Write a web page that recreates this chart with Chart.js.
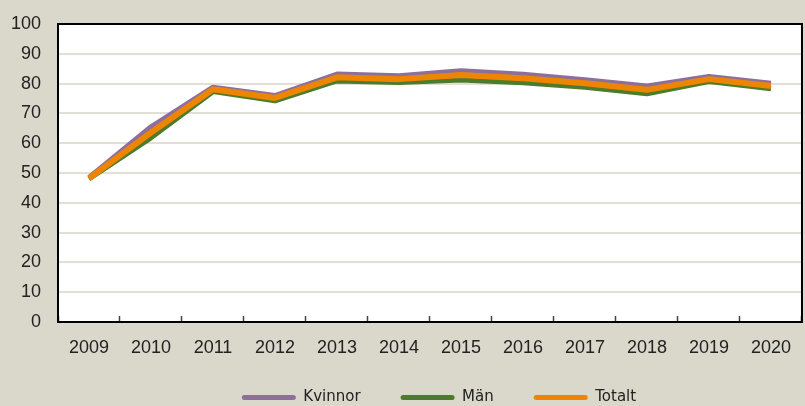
<!DOCTYPE html>
<html lang="sv">
<head>
<meta charset="utf-8">
<title>Kvinnor, Män, Totalt 2009–2020</title>
<script src="https://cdn.jsdelivr.net/npm/chart.js@4/dist/chart.umd.min.js"></script>
<style>
  html, body { margin: 0; padding: 0; overflow: hidden; background: #dad7cb; }
  #miGrafico { display: block; }
</style>
</head>
<body>
<canvas id="miGrafico" width="812" height="427"></canvas>
<script>
// ===============================
// Datos
// ===============================
const anios = ['2009', '2010', '2011', '2012', '2013', '2014', '2015', '2016', '2017', '2018', '2019', '2020'];
const kvinnor = [48.5, 65.5, 78.8, 76.0, 83.2, 82.6, 84.3, 83.1, 81.3, 79.2, 82.4, 80.1];
const man = [48.0, 61.8, 77.3, 74.2, 80.9, 80.4, 81.2, 80.3, 78.8, 76.6, 80.7, 78.3];
const totalt = [48.2, 63.6, 78.1, 75.2, 82.1, 81.5, 82.9, 81.8, 80.1, 77.9, 81.5, 79.2];
const ticksY = [0, 10, 20, 30, 40, 50, 60, 70, 80, 90, 100];

const FUENTE = '"Liberation Sans", Arial, sans-serif';
const FUENTE_LEYENDA = '"DejaVu Sans", sans-serif';

// ===============================
// Plugin: fondo blanco y marco negro del área del gráfico
// ===============================
const marcoArea = {
  id: 'marcoArea',
  beforeDraw(chart) {
    const { ctx, chartArea } = chart;
    ctx.save();
    ctx.fillStyle = '#fff';
    ctx.fillRect(chartArea.left, chartArea.top, chartArea.right - chartArea.left, chartArea.bottom - chartArea.top);
    ctx.restore();
  },
  afterDraw(chart) {
    const { ctx, chartArea } = chart;
    ctx.save();
    ctx.strokeStyle = '#000';
    ctx.lineWidth = 2;
    ctx.strokeRect(chartArea.left, chartArea.top, chartArea.right - chartArea.left, chartArea.bottom - chartArea.top);
    ctx.restore();
  }
};

// ===============================
// Plugin: acercar la leyenda a las etiquetas del eje X
// ===============================
const subirLeyenda = {
  id: 'subirLeyenda',
  afterLayout(chart) {
    const leyenda = chart.legend;
    if (!leyenda) return;
    leyenda.top -= 12;
    leyenda.bottom -= 12;
    leyenda.left += 9;
    leyenda.right += 9;
  }
};

// ===============================
// Gráfico
// ===============================
function serie(label, data, color, ancho, orden) {
  return {
    label: label,
    data: data,
    borderColor: color,
    backgroundColor: color,
    borderWidth: ancho,
    borderJoinStyle: 'round',
    pointRadius: 0,
    tension: 0,
    fill: false,
    order: orden
  };
}

const ctx = document.getElementById('miGrafico').getContext('2d');
new Chart(ctx, {
  type: 'line',
  data: {
    labels: anios,
    datasets: [
      serie('Kvinnor', kvinnor, '#8c6f9c', 5, 2),
      serie('Män', man, '#4b7b2b', 5, 1),
      serie('Totalt', totalt, '#ee8500', 6, 0)
    ]
  },
  options: {
    responsive: false,
    animation: false,
    layout: { padding: { top: 24, left: 0, right: 0, bottom: 0 } },
    scales: {
      x: {
        offset: true,
        grid: {
          offset: true,
          drawOnChartArea: false,
          drawTicks: true,
          tickLength: -6,
          tickWidth: 1.5,
          tickColor: '#444'
        },
        border: { color: '#000', width: 2 },
        ticks: { color: '#222', padding: 21, font: { family: FUENTE, size: 18 } },
        afterFit: (scale) => { scale.height = 40; }
      },
      y: {
        min: 0,
        max: 100,
        afterBuildTicks: (scale) => { scale.ticks = ticksY.map(v => ({ value: v })); },
        grid: { color: '#e2dfd6', lineWidth: 2, drawTicks: false },
        border: { color: '#000', width: 2 },
        ticks: { color: '#222', padding: 17, font: { family: FUENTE, size: 18 } },
        afterFit: (scale) => {
          scale.width = 58;
          scale.paddingTop = 10;
          scale.paddingBottom = 10;
        }
      }
    },
    plugins: {
      tooltip: { enabled: false },
      legend: {
        position: 'bottom',
        fullSize: false,
        labels: {
          boxWidth: 54,
          boxHeight: 5,
          useBorderRadius: true,
          borderRadius: 2.5,
          padding: 40,
          color: '#222',
          font: { family: FUENTE_LEYENDA, size: 15 },
          sort: (a, b) => a.datasetIndex - b.datasetIndex,
          generateLabels: (chart) => {
            const items = Chart.defaults.plugins.legend.labels.generateLabels(chart);
            return items.map(it => Object.assign(it, { lineWidth: 0 }));
          }
        }
      }
    }
  },
  plugins: [marcoArea, subirLeyenda]
});
</script>
</body>
</html>
